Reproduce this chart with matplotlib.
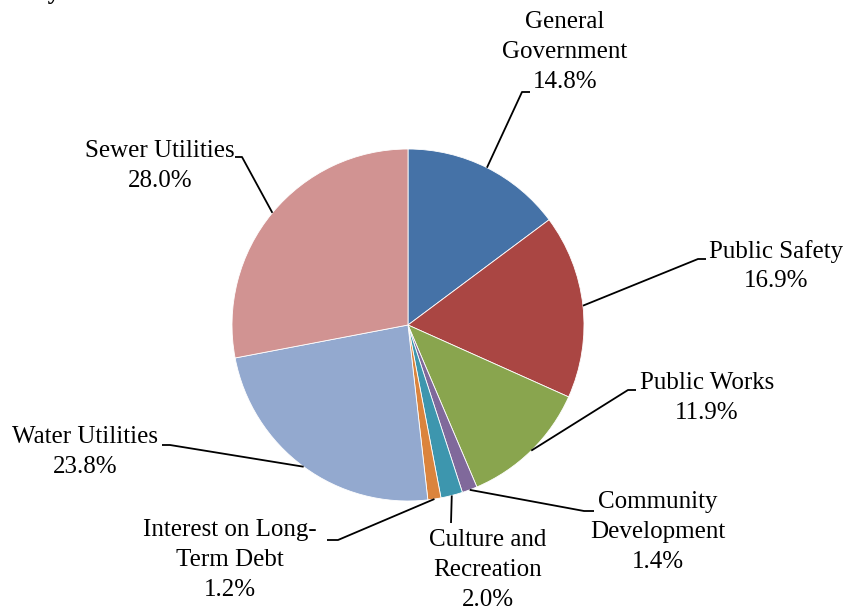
import matplotlib
matplotlib.use("Agg")
import matplotlib.pyplot as plt
import numpy as np

categories = ["General\nGovernment", "Public Safety", "Public Works", "Community\nDevelopment",
              "Culture and\nRecreation", "Interest on Long-\nTerm Debt", "Water Utilities", "Sewer Utilities"]
values = [14.8, 16.9, 11.9, 1.4, 2.0, 1.2, 23.8, 28.0]
colors = ["#4572A7", "#AA4643", "#89A54E", "#80699B", "#3D96AE", "#DB843D", "#93A9CF", "#D19392"]

W, H = 849, 607
fig = plt.figure(figsize=(W / 100, H / 100), dpi=100)
ax = fig.add_axes([0, 0, 1, 1])

cx, cy, r = 408, H - 325, 176
wedges, _ = ax.pie(values, colors=colors, startangle=90, counterclock=False,
                   center=(cx, cy), radius=r, wedgeprops=dict(linewidth=0.6, edgecolor="white"),
                   frame=True)
ax.set_xlim(0, W)
ax.set_ylim(0, H)
ax.set_aspect("equal")
ax.axis("off")

# label layout in pixel coordinates (top-left origin): text center, elbow, end of horizontal
layout = [
    dict(text=(565, 52), elbow=(522, 92), end=(530, 92)),
    dict(text=(776, 266), elbow=(698, 259), end=(706, 259)),
    dict(text=(707, 398), elbow=(628, 390), end=(636, 390)),
    dict(text=(658, 532), elbow=(584, 511), end=(594, 511)),
    dict(text=(488, 570), elbow=(451, 523), end=(451, 523)),
    dict(text=(230, 560), elbow=(338, 540), end=(327, 540)),
    dict(text=(85, 452), elbow=(170, 445), end=(162, 445)),
    dict(text=(160, 166), elbow=(242, 157), end=(235, 157)),
]

font = dict(family="Liberation Serif", fontsize=18, color="#000000")
for w, cat, val, lay in zip(wedges, categories, values, layout):
    ang = np.deg2rad((w.theta1 + w.theta2) / 2)
    ex, ey = cx + r * np.cos(ang), cy + r * np.sin(ang)
    bx, by = lay["elbow"]
    fx, fy = lay["end"]
    ax.plot([ex, bx, fx], [ey, H - by, H - fy], color="black", lw=1.3, solid_capstyle="butt")
    tx, ty = lay["text"]
    ax.text(tx, H - ty, f"{cat}\n{val:.1f}%", ha="center", va="center",
            linespacing=1.45, **font)

ax.text(162, H + 1, "Expenses by Function", ha="right", va="baseline",
        family="Liberation Serif", fontsize=18, fontweight="bold", color="#000000")

fig.savefig("out.png", dpi=100)
